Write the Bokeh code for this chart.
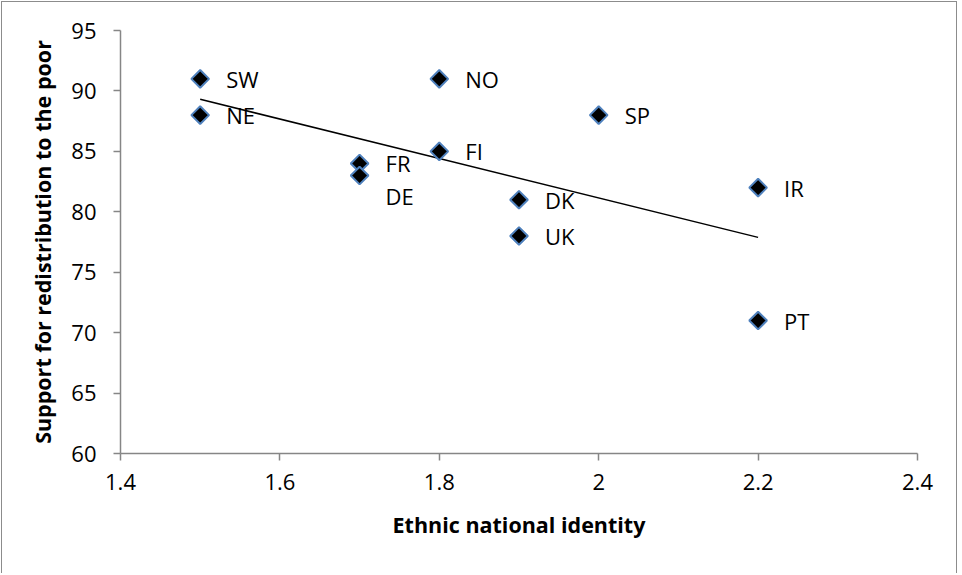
import numpy as np
from bokeh.plotting import figure
from bokeh.models import ColumnDataSource, Range1d, FixedTicker
from bokeh.core.properties import value
from bokeh.embed import file_html
from bokeh.resources import INLINE

countries = ["SW", "NE", "NO", "SP", "FR", "DE", "FI", "DK", "UK", "IR", "PT"]
identity = [1.5, 1.5, 1.8, 2.0, 1.7, 1.7, 1.8, 1.9, 1.9, 2.2, 2.2]
support = [91, 88, 91, 88, 84, 83, 85, 81, 78, 82, 71]
label_dy = [0, 0, 0, 0, 0, 20, 0, 0, 0, 0, 0]
x_ticks = [1.4, 1.6, 1.8, 2.0, 2.2, 2.4]
x_tick_labels = {1.4: "1.4", 1.6: "1.6", 1.8: "1.8", 2.0: "2", 2.2: "2.2", 2.4: "2.4"}
y_ticks = [60, 65, 70, 75, 80, 85, 90, 95]

FONT = "Open Sans"
AXIS_COLOR = "#868686"

src = ColumnDataSource(dict(x=identity, y=support, name=countries, dy=label_dy))

p = figure(width=956, height=572, output_backend="svg", toolbar_location=None,
           x_range=Range1d(1.4, 2.4), y_range=Range1d(60, 95),
           min_border_left=118, min_border_right=41, min_border_top=28, min_border_bottom=121)
p.styles = {"border-left": "1px solid #8c8c8c", "border-right": "1px solid #8c8c8c",
            "border-top": "1px solid #8c8c8c", "margin-left": "1px", "margin-top": "1px"}
p.outline_line_color = None
p.xgrid.visible = False
p.ygrid.visible = False

# trend line (least squares fit over data range)
slope, intercept = np.polyfit(identity, support, 1)
tx = [min(identity), max(identity)]
ty = [slope * v + intercept for v in tx]
p.line(tx, ty, line_color="black", line_width=1.5)

p.scatter("x", "y", source=src, marker="square", angle=np.pi / 4, size=12.5,
          fill_color="black", line_color="#4f81bd", line_width=2)
p.text("x", "y", text="name", source=src, x_offset=26, y_offset="dy",
       text_align="left", text_baseline="middle", text_font=value(FONT),
       text_font_size="22px", text_color="black")

for ax in (p.xaxis[0], p.yaxis[0]):
    ax.axis_line_color = AXIS_COLOR
    ax.axis_line_width = 1.5
    ax.major_tick_line_color = AXIS_COLOR
    ax.major_tick_line_width = 1.5
    ax.major_tick_out = 7
    ax.major_tick_in = 0
    ax.minor_tick_line_color = None
    ax.major_label_text_font = FONT
    ax.major_label_text_font_size = "22px"
    ax.major_label_text_color = "black"
    ax.axis_label_text_font = FONT
    ax.axis_label_text_font_size = "21.5px"
    ax.axis_label_text_font_style = "bold"
    ax.axis_label_text_color = "black"

p.xaxis.ticker = FixedTicker(ticks=x_ticks)
p.xaxis.major_label_overrides = x_tick_labels
p.xaxis.major_label_standoff = 13
p.xaxis.axis_label = "Ethnic national identity"
p.xaxis.axis_label_standoff = 17

p.yaxis.ticker = FixedTicker(ticks=y_ticks)
p.yaxis.major_label_standoff = 17
p.yaxis.axis_label = "Support for redistribution to the poor"
p.yaxis.axis_label_standoff = 11

open("out.html", "w").write(file_html(p, INLINE))
